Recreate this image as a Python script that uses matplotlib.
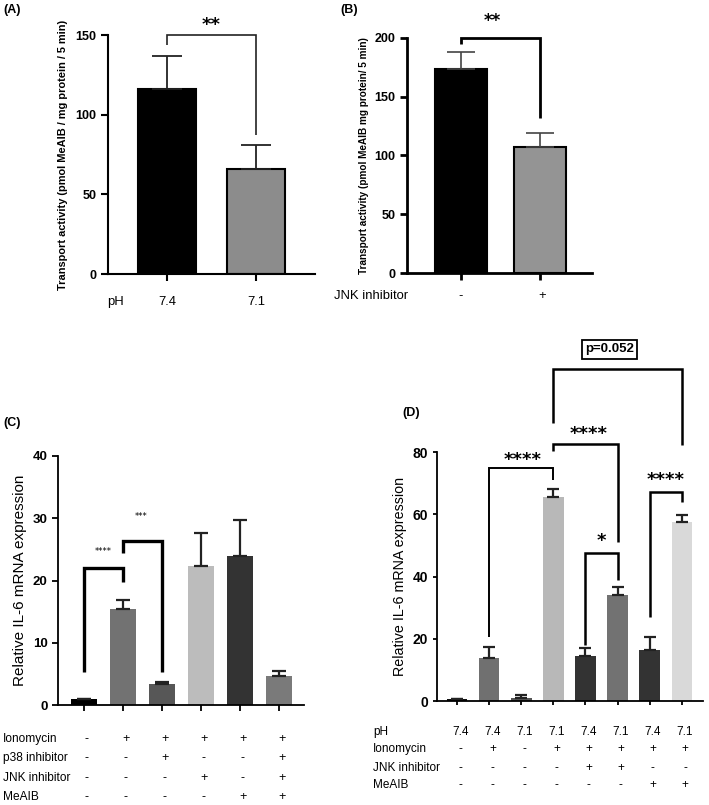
import matplotlib
matplotlib.use('Agg')
import matplotlib.pyplot as plt
from matplotlib import font_manager
from matplotlib.transforms import blended_transform_factory
import numpy as np

# fonts
names = {f.name for f in font_manager.fontManager.ttflist}
SANS = 'Liberation Sans' if 'Liberation Sans' in names else 'DejaVu Sans'
NARROW = 'Liberation Sans Narrow' if 'Liberation Sans Narrow' in names else SANS
plt.rcParams['font.family'] = SANS

# Panel A data
a_ph = ['7.4', '7.1']
a_means = [116, 66]
a_err = [21, 15]
a_colors = ['#000000', '#8c8c8c']

# Panel B data
b_jnk = ['-', '+']
b_means = [173, 107]
b_err = [15, 12]
b_colors = ['#000000', '#949494']

# Panel C data
c_means = [0.9, 15.4, 3.3, 22.3, 24.0, 4.7]
c_err = [0.0, 1.5, 0.4, 5.3, 5.7, 0.7]
c_colors = ['#000000', '#727272', '#575757', '#bcbcbc', '#333333', '#7a7a7a']
c_rows = ['Ionomycin', 'p38 inhibitor', 'JNK inhibitor', 'MeAIB']
c_table = [['-', '+', '+', '+', '+', '+'],
           ['-', '-', '+', '-', '-', '+'],
           ['-', '-', '-', '+', '-', '+'],
           ['-', '-', '-', '-', '+', '+']]

# Panel D data
d_means = [0.5, 13.7, 1.1, 65.4, 14.5, 34.1, 16.3, 57.4]
d_err = [0.0, 3.8, 0.8, 2.6, 2.6, 2.4, 4.4, 2.2]
d_colors = ['#111111', '#707070', '#555555', '#b8b8b8', '#333333', '#727272', '#333333', '#d9d9d9']
d_rows = ['pH', 'Ionomycin', 'JNK inhibitor', 'MeAIB']
d_table = [['7.4', '7.4', '7.1', '7.1', '7.4', '7.1', '7.4', '7.1'],
           ['-', '+', '-', '+', '+', '+', '+', '+'],
           ['-', '-', '-', '-', '+', '+', '-', '-'],
           ['-', '-', '-', '-', '-', '-', '+', '+']]

W, H = 709, 805
fig = plt.figure(figsize=(W / 100, H / 100), dpi=100)


def fx(px):
    return px / W


def fy(py):
    return 1 - py / H


def bracket(ax, x1, x2, top, yl, yr, lw, color='black'):
    ax.plot([x1, x1, x2, x2], [yl, top, top, yr], color=color, lw=lw,
            clip_on=False, solid_joinstyle='miter', solid_capstyle='butt')


def style_axes(ax, lw, ticklen, font, size):
    for s in ['top', 'right']:
        ax.spines[s].set_visible(False)
    for s in ['left', 'bottom']:
        ax.spines[s].set_linewidth(lw)
    ax.tick_params(width=lw, length=ticklen, direction='out')
    ax.set_xticklabels([])
    for lab in ax.get_yticklabels():
        lab.set_fontfamily(font)
        lab.set_fontweight('bold')
        lab.set_fontsize(size)


# ---------------- (A) ----------------
axA = fig.add_axes([fx(108), fy(274), fx(315 - 108), fy(35) - fy(274)])
xa = np.arange(len(a_means))
axA.bar(xa, a_means, width=0.65, color=a_colors, edgecolor='black', linewidth=1.5)
axA.errorbar(xa, a_means, yerr=[np.zeros(2), a_err], fmt='none', ecolor='#222222',
             elinewidth=1.3, capsize=11, capthick=1.3)
axA.set_xlim(-0.663, 1.663)
axA.set_ylim(0, 150)
axA.set_yticks([0, 50, 100, 150])
axA.set_xticks(xa)
style_axes(axA, 1.5, 5, SANS, 9)
axA.set_ylabel('Transport activity (pmol MeAIB / mg protein / 5 min)',
               fontsize=7.9, fontweight='bold', labelpad=5)
bracket(axA, 0, 1, 150, 144, 87, 1.2, '#222222')
axA.text(0.5, 156, '**', ha='center', va='center', fontsize=13, fontweight='bold',
         family='DejaVu Sans')
fig.text(fx(3), fy(10), '(A)', fontsize=9, fontweight='bold', va='center')
fig.text(fx(107), fy(302), 'pH', fontsize=9.4, va='center')
for i, t in enumerate(a_ph):
    fig.text(fx([167, 256][i]), fy(302), t, fontsize=9.4, ha='center', va='center')

# ---------------- (B) ----------------
axB = fig.add_axes([fx(407), fy(273), fx(592 - 407), fy(37.7) - fy(273)])
xb = np.arange(len(b_means))
axB.bar(xb, b_means, width=0.65, color=b_colors, edgecolor='black', linewidth=1.5)
axB.errorbar(xb, b_means, yerr=[np.zeros(2), b_err], fmt='none', ecolor='#444444',
             elinewidth=1.2, capsize=10, capthick=1.2)
axB.set_xlim(-0.684, 1.66)
axB.set_ylim(0, 200)
axB.set_yticks([0, 50, 100, 150, 200])
axB.set_xticks(xb)
style_axes(axB, 2, 5, SANS, 9)
axB.set_ylabel('Transport activity (pmol MeAIB mg protein/ 5 min)',
               fontsize=7.2, fontweight='bold', labelpad=4)
bracket(axB, 0, 1, 200, 195, 132, 2)
axB.text(0.4, 214, '**', ha='center', va='center', fontsize=12, fontweight='bold',
         family='DejaVu Sans')
fig.text(fx(340), fy(10), '(B)', fontsize=9, fontweight='bold', va='center')
fig.text(fx(334), fy(296), 'JNK inhibitor', fontsize=9.4, va='center')
for i, t in enumerate(b_jnk):
    fig.text(fx([461, 542][i]), fy(296), t, fontsize=9.4, ha='center', va='center')

# ---------------- (C) ----------------
axC = fig.add_axes([fx(58), fy(705), fx(304 - 58), fy(456) - fy(705)])
xc = np.arange(len(c_means))
axC.bar(xc, c_means, width=0.66, color=c_colors)
axC.errorbar(xc, c_means, yerr=[np.zeros(len(c_err)), c_err], fmt='none',
             ecolor='#222222', elinewidth=1.6, capsize=5, capthick=1.6)
axC.set_xlim(-0.67, 5.64)
axC.set_ylim(0, 40)
axC.set_yticks([0, 10, 20, 30, 40])
axC.set_xticks(xc)
style_axes(axC, 1.3, 4, NARROW, 9.5)
axC.set_ylabel('Relative IL-6 mRNA expression', fontsize=11, labelpad=4)
bracket(axC, 0, 1, 22.05, 5.3, 19.8, 2.4)
bracket(axC, 1, 2, 26.4, 24.4, 5.3, 2.4)
axC.text(0.5, 24.6, '****', ha='center', va='center', fontsize=6, family='DejaVu Sans')
axC.text(1.45, 30.3, '***', ha='center', va='center', fontsize=6, family='DejaVu Sans')
fig.text(fx(3), fy(423), '(C)', fontsize=9, fontweight='bold', va='center')
c_row_y = [739, 758, 778, 797]
trC = blended_transform_factory(axC.transData, fig.transFigure)
for r, lab in enumerate(c_rows):
    fig.text(fx(3), fy(c_row_y[r]), lab, fontsize=8.6, family=NARROW, va='center')
    for i, t in enumerate(c_table[r]):
        axC.text(i + 0.07, fy(c_row_y[r]), t, transform=trC,
                 fontsize=9, ha='center', va='center')

# ---------------- (D) ----------------
axD = fig.add_axes([fx(437), fy(701), fx(703 - 437), fy(452) - fy(701)])
xd = np.arange(len(d_means))
axD.bar(xd, d_means, width=0.64, color=d_colors)
axD.errorbar(xd, d_means, yerr=[np.zeros(len(d_err)), d_err], fmt='none',
             ecolor='#222222', elinewidth=1.6, capsize=4, capthick=1.6)
axD.set_xlim(-0.625, 7.66)
axD.set_ylim(0, 80)
axD.set_yticks([0, 20, 40, 60, 80])
axD.set_xticks(xd)
style_axes(axD, 1.3, 3, NARROW, 10)
axD.set_ylabel('Relative IL-6 mRNA expression', fontsize=10.3, labelpad=4)
bracket(axD, 1, 3, 74.8, 20.7, 71.0, 1.4)
bracket(axD, 3, 5, 82.5, 80.4, 51.2, 1.8)
bracket(axD, 4, 5, 47.5, 18.0, 38.9, 1.8)
bracket(axD, 6, 7, 67.3, 27.1, 63.8, 1.8)
bracket(axD, 3, 7, 106.6, 89.2, 82.3, 1.8)
star_kw = dict(ha='center', va='center', fontsize=13, fontweight='bold', family='DejaVu Sans')
axD.text(2.05, 77.5, '****', **star_kw)
axD.text(4.1, 85.7, '****', **star_kw)
axD.text(4.5, 51.3, '*', **star_kw)
axD.text(6.5, 71.0, '****', **star_kw)
axD.text(4.75, 113.0, 'p=0.052', ha='center', va='center', fontsize=9.5,
         fontweight='bold', family=NARROW,
         bbox=dict(boxstyle='square,pad=0.25', fc='white', ec='black', lw=1.3))
fig.text(fx(402), fy(413), '(D)', fontsize=9, fontweight='bold', va='center')
d_row_y = [732, 749, 768, 785]
trD = blended_transform_factory(axD.transData, fig.transFigure)
for r, lab in enumerate(d_rows):
    fig.text(fx(373), fy(d_row_y[r]), lab, fontsize=8.5, va='center')
    for i, t in enumerate(d_table[r]):
        axD.text(i + 0.1, fy(d_row_y[r]), t, transform=trD,
                 fontsize=8.5, ha='center', va='center')

fig.savefig('out.png', dpi=100)
